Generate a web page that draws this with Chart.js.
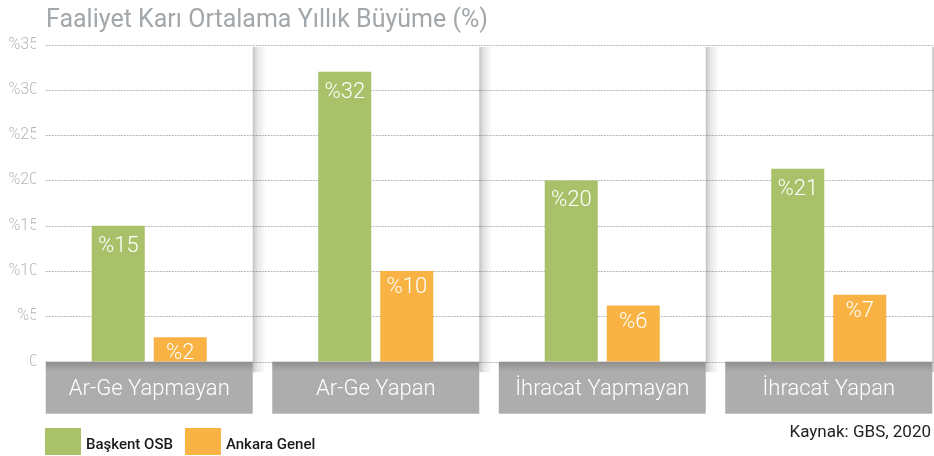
<!DOCTYPE html>
<html lang="tr">
<head>
<meta charset="utf-8">
<title>Faaliyet Karı Ortalama Yıllık Büyüme</title>
<script src="https://cdn.jsdelivr.net/npm/chart.js@4.4.1/dist/chart.umd.min.js"></script>
<style>
  html, body { margin: 0; padding: 0; background: #fff; overflow: hidden; }
  #wrap { width: 942px; height: 456px; }
</style>
</head>
<body>
<div id="wrap"><canvas id="myChart" width="942" height="456"></canvas></div>
<script>
// Chart data
const categories = ['Ar-Ge Yapmayan', 'Ar-Ge Yapan', 'İhracat Yapmayan', 'İhracat Yapan'];
const baskentValues = [15, 32, 20, 21.3];
const ankaraValues = [2.7, 10, 6.2, 7.4];
const baskentLabels = ['%15', '%32', '%20', '%21'];
const ankaraLabels = ['%2', '%10', '%6', '%7'];
const yTicks = [0, 5, 10, 15, 20, 25, 30, 35];
const titleText = 'Faaliyet Karı Ortalama Yıllık Büyüme (%)';
const sourceText = 'Kaynak: GBS, 2020';

const GREEN = '#a9c26a';
const ORANGE = '#f8b344';
const BOX_HALF = 103.5; // half width of the grey category box

let ctx = document.getElementById('myChart').getContext('2d');

function bandCenter(chart, i) {
    return chart.scales.x.getPixelForValue(i);
}

// Draws grid, panel shadows, category boxes, bar labels, title, legend and source
const decor = {
    id: 'decor',
    beforeDatasetsDraw(chart) {
        const c = chart.ctx;
        const y = chart.scales.y;
        const area = chart.chartArea;
        const left = bandCenter(chart, 0) - BOX_HALF;
        c.save();
        // dashed grid lines
        c.strokeStyle = '#b9b9b9';
        c.lineWidth = 1;
        c.setLineDash([2, 1]);
        yTicks.forEach(v => {
            const py = Math.round(y.getPixelForValue(v)) + 0.5;
            c.beginPath();
            c.moveTo(left, py);
            c.lineTo(chart.width, py);
            c.stroke();
        });
        c.setLineDash([]);
        // soft shadow on the right side of every panel
        categories.forEach((cat, i) => {
            const xr = bandCenter(chart, i) + BOX_HALF;
            const g = c.createLinearGradient(xr, 0, xr + 13, 0);
            g.addColorStop(0, 'rgba(0,0,0,0.23)');
            g.addColorStop(0.35, 'rgba(0,0,0,0.1)');
            g.addColorStop(1, 'rgba(0,0,0,0)');
            c.fillStyle = g;
            c.fillRect(xr, area.top + 2.5, 13, area.bottom - area.top + 8);
        });
        c.restore();
    },
    afterDatasetsDraw(chart) {
        const c = chart.ctx;
        const area = chart.chartArea;
        c.save();

        // value labels inside the bars
        const labelSets = [baskentLabels, ankaraLabels];
        const offsets = [26, 22];
        c.fillStyle = '#ffffff';
        c.font = '300 22px Roboto';
        c.textAlign = 'center';
        c.textBaseline = 'alphabetic';
        labelSets.forEach((labels, d) => {
            chart.getDatasetMeta(d).data.forEach((bar, i) => {
                c.fillText(labels[i], bar.x, bar.y + offsets[d]);
            });
        });

        // grey category boxes
        const top = area.bottom;
        categories.forEach((cat, i) => {
            const cx = bandCenter(chart, i);
            const g = c.createLinearGradient(0, top, 0, top + 10);
            g.addColorStop(0, '#8e8e8e');
            g.addColorStop(1, '#adadad');
            c.fillStyle = g;
            c.fillRect(cx - BOX_HALF, top, BOX_HALF * 2, 52);
            c.fillStyle = '#ffffff';
            c.font = '300 22px Roboto';
            c.textAlign = 'center';
            c.textBaseline = 'middle';
            c.fillText(cat, cx, top + 28);
        });

        // title
        c.fillStyle = '#a2a7ab';
        c.font = '400 25px Roboto';
        c.textAlign = 'left';
        c.textBaseline = 'alphabetic';
        c.fillText(titleText, 46, 27);

        // legend
        let lx = 45;
        chart.data.datasets.forEach(ds => {
            c.fillStyle = ds.backgroundColor;
            c.fillRect(lx, 428, 36, 27);
            c.fillStyle = '#1a1a1a';
            c.font = '500 15px Roboto';
            c.fillText(ds.label, lx + 41, 449);
            lx += 41 + c.measureText(ds.label).width + 12;
        });

        // source
        c.fillStyle = '#222222';
        c.font = '400 17px Roboto';
        c.textAlign = 'right';
        c.fillText(sourceText, 931, 437);
        c.restore();
    }
};

new Chart(ctx, {
    type: 'bar',
    data: {
        labels: categories,
        datasets: [
            { label: 'Başkent OSB', data: baskentValues, backgroundColor: GREEN },
            { label: 'Ankara Genel', data: ankaraValues, backgroundColor: ORANGE }
        ]
    },
    options: {
        responsive: false,
        animation: false,
        devicePixelRatio: 1,
        layout: { padding: { top: 44.5, bottom: 94.3, left: 0, right: 0 } },
        categoryPercentage: 0.5475,
        barPercentage: 0.855,
        plugins: {
            legend: { display: false },
            title: { display: false },
            tooltip: { enabled: false }
        },
        scales: {
            x: { display: false, grid: { display: false } },
            y: {
                min: 0,
                max: 35,
                grid: { display: false, drawTicks: false },
                border: { display: false },
                afterBuildTicks: scale => { scale.ticks = yTicks.map(v => ({ value: v })); },
                afterFit: scale => { scale.width = 36; },
                ticks: {
                    padding: -2,
                    color: '#b3b8bc',
                    font: { family: 'Roboto', size: 16, weight: '300' },
                    callback: v => v === 0 ? '0' : '%' + v
                }
            }
        }
    },
    plugins: [decor]
});
</script>
</body>
</html>
